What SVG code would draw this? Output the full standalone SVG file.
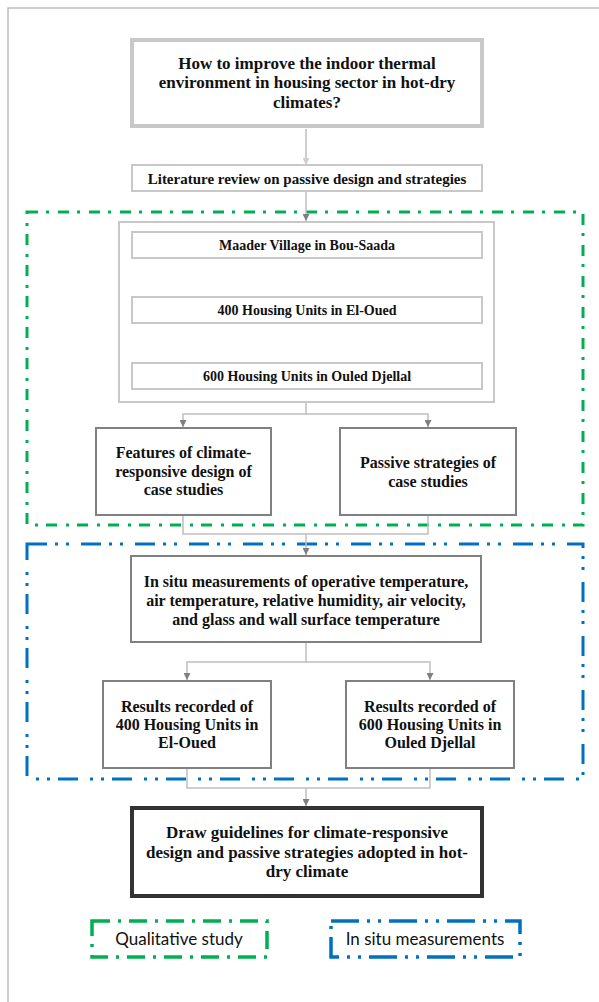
<svg xmlns="http://www.w3.org/2000/svg" width="599" height="1002" viewBox="0 0 599 1002">
<style>
.t{font-family:"Liberation Serif","Times New Roman",serif;font-weight:bold;fill:#111;text-anchor:middle}
.s{font-family:Lato,"Liberation Sans",sans-serif;fill:#111;text-anchor:middle}
.lt{fill:#fff;stroke:#c8c8c8;stroke-width:2}
.md{fill:#fff;stroke:#808080;stroke-width:2}
.cn{fill:none;stroke:#bfbfbf;stroke-width:1.5}
</style>
<defs>
<marker id="ah" viewBox="0 0 10 10" refX="10" refY="5" markerWidth="8" markerHeight="7" markerUnits="userSpaceOnUse" orient="auto"><path d="M0,0L10,5L0,10z" fill="#7f7f7f"/></marker>
<marker id="ahl" viewBox="0 0 10 10" refX="10" refY="5" markerWidth="8" markerHeight="7" markerUnits="userSpaceOnUse" orient="auto"><path d="M0,0L10,5L0,10z" fill="#cfcfcf"/></marker>
</defs>
<rect width="599" height="1002" fill="#fff"/>
<path d="M8,1002V8H599" fill="none" stroke="#bdbdbd" stroke-width="1.5"/>
<g id="regions">
<rect x="27" y="212" width="556" height="313" fill="none" stroke="#00b050" stroke-width="3" stroke-dasharray="11 8 3 9"/>
<rect x="27" y="544" width="556" height="235" fill="none" stroke="#0070c0" stroke-width="3" stroke-dasharray="20 8 3 8 3 12"/>
</g>
<g id="connectors">
<path class="cn" d="M306,129V165" stroke="#d9d9d9" marker-end="url(#ahl)"/>
<path class="cn" d="M306,192V221" marker-end="url(#ah)"/>
<path class="cn" d="M306,259V296" marker-end="url(#ah)"/>
<path class="cn" d="M306,324V362" marker-end="url(#ah)"/>
<path class="cn" d="M306,403V414H183V427" marker-end="url(#ah)"/>
<path class="cn" d="M306,414H428V427" marker-end="url(#ah)"/>
<path class="cn" d="M183,516V534H428V516"/>
<path class="cn" d="M306,534V555" marker-end="url(#ah)"/>
<path class="cn" d="M306,643V662H187V680" marker-end="url(#ah)"/>
<path class="cn" d="M306,662H430V680" marker-end="url(#ah)"/>
<path class="cn" d="M187,769V788H430V769"/>
<path class="cn" d="M306,788V806" marker-end="url(#ah)"/>
</g>
<g id="n-question">
<rect x="132" y="40" width="350" height="86" fill="#fff" stroke="#c8c8c8" stroke-width="4"/>
<text class="t" font-size="17"><tspan x="307" y="69">How to improve the indoor thermal</tspan><tspan x="307" y="88">environment in housing sector in hot-dry</tspan><tspan x="307" y="108">climates?</tspan></text>
</g>
<g id="n-literature">
<rect class="lt" x="132" y="165" width="350" height="26" stroke="#d4d4d4"/>
<text class="t" font-size="15" x="307" y="184">Literature review on passive design and strategies</text>
</g>
<g id="n-cases">
<rect class="lt" x="119" y="222" width="375" height="180"/>
</g>
<g id="n-maader">
<rect class="lt" x="132" y="232" width="350" height="26"/>
<text class="t" font-size="14" x="307" y="250">Maader Village in Bou-Saada</text>
</g>
<g id="n-400">
<rect class="lt" x="132" y="297" width="350" height="26"/>
<text class="t" font-size="14" x="307" y="315">400 Housing Units in El-Oued</text>
</g>
<g id="n-600">
<rect class="lt" x="132" y="363" width="350" height="26"/>
<text class="t" font-size="14" x="307" y="381">600 Housing Units in Ouled Djellal</text>
</g>
<g id="n-features">
<rect class="md" x="96" y="428" width="175" height="87"/>
<text class="t" font-size="16"><tspan x="183.5" y="458">Features of climate-</tspan><tspan x="183.5" y="477">responsive design of</tspan><tspan x="183.5" y="495">case studies</tspan></text>
</g>
<g id="n-passive">
<rect class="md" x="340" y="428" width="176" height="87"/>
<text class="t" font-size="16"><tspan x="428" y="468">Passive strategies of</tspan><tspan x="428" y="487">case studies</tspan></text>
</g>
<g id="n-insitu">
<rect class="md" x="131" y="556" width="350" height="86"/>
<text class="t" font-size="16"><tspan x="306" y="587">In situ measurements of operative temperature,</tspan><tspan x="306" y="606">air temperature, relative humidity, air velocity,</tspan><tspan x="306" y="625">and glass and wall surface temperature</tspan></text>
</g>
<g id="n-res400">
<rect class="md" x="103" y="681" width="168" height="87"/>
<text class="t" font-size="16"><tspan x="187" y="712">Results recorded of</tspan><tspan x="187" y="730">400 Housing Units in</tspan><tspan x="187" y="748">El-Oued</tspan></text>
</g>
<g id="n-res600">
<rect class="md" x="346" y="681" width="168" height="87"/>
<text class="t" font-size="16"><tspan x="430" y="712">Results recorded of</tspan><tspan x="430" y="730">600 Housing Units in</tspan><tspan x="430" y="748">Ouled Djellal</tspan></text>
</g>
<g id="n-guidelines">
<rect x="132" y="808" width="350" height="88" fill="#fff" stroke="#333" stroke-width="4"/>
<text class="t" font-size="17"><tspan x="307" y="838">Draw guidelines for climate-responsive</tspan><tspan x="307" y="858">design and passive strategies adopted in hot-</tspan><tspan x="307" y="877">dry climate</tspan></text>
</g>
<g id="legend-qualitative">
<rect x="92" y="921" width="175" height="36" fill="none" stroke="#00b050" stroke-width="3.5" stroke-dasharray="18 8 3 8"/>
<text class="s" font-size="17" x="179" y="945">Qualitative study</text>
</g>
<g id="legend-insitu">
<rect x="331" y="921" width="189" height="36" fill="none" stroke="#0070c0" stroke-width="3.5" stroke-dasharray="28 8 3 8 3 8"/>
<text class="s" font-size="17" x="425" y="945">In situ measurements</text>
</g>
</svg>
